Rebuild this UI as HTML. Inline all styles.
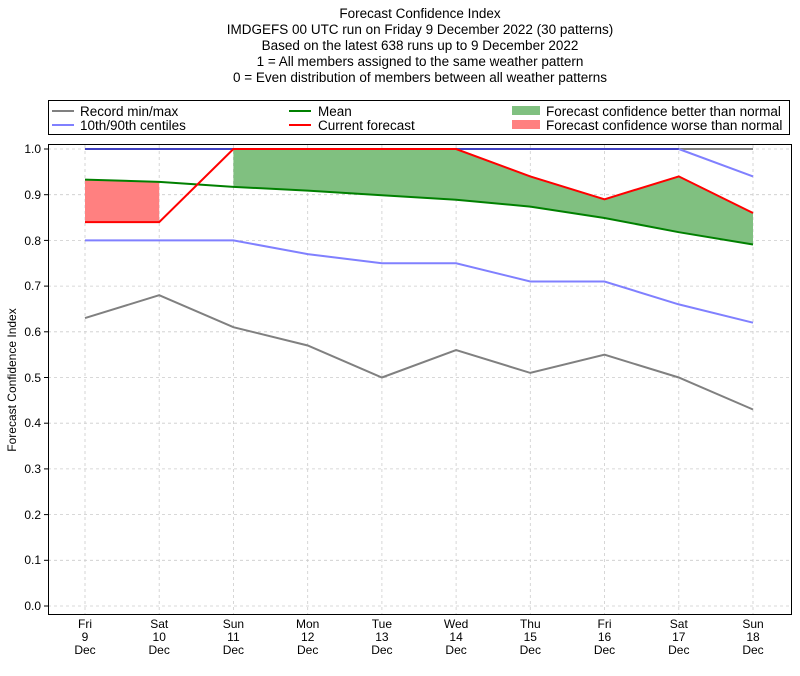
<!DOCTYPE html>
<html><head><meta charset="utf-8"><style>body{margin:0;background:#fff}svg{display:block;font-family:"Liberation Sans","DejaVu Sans",sans-serif}</style></head><body>
<svg width="800" height="676" viewBox="0 0 800 676" xmlns="http://www.w3.org/2000/svg">
<g font-size="13.5" text-anchor="middle" fill="#000">
<text x="420" y="18">Forecast Confidence Index</text>
<text x="420" y="34">IMDGEFS 00 UTC run on Friday 9 December 2022 (30 patterns)</text>
<text x="420" y="50">Based on the latest 638 runs up to 9 December 2022</text>
<text x="420" y="66">1 = All members assigned to the same weather pattern</text>
<text x="420" y="82">0 = Even distribution of members between all weather patterns</text>
</g>
<rect x="48.5" y="100.5" width="741" height="34" fill="#fff" stroke="#000"/>
<g font-size="13.5">
<line x1="52" y1="111" x2="74" y2="111" stroke="#808080" stroke-width="2"/><text x="80" y="116">Record min/max</text>
<line x1="52" y1="125" x2="74" y2="125" stroke="#8080ff" stroke-width="2"/><text x="80" y="130">10th/90th centiles</text>
<line x1="289" y1="111" x2="311" y2="111" stroke="#008000" stroke-width="2"/><text x="318" y="116">Mean</text>
<line x1="289" y1="125" x2="311" y2="125" stroke="#ff0000" stroke-width="2"/><text x="318" y="130">Current forecast</text>
<rect x="512" y="106" width="28" height="9" fill="#80c080"/><text x="546" y="116">Forecast confidence better than normal</text>
<rect x="512" y="120" width="28" height="9" fill="#ff8080"/><text x="546" y="130">Forecast confidence worse than normal</text>
</g>
<g stroke="#ccc" stroke-dasharray="3,3" stroke-width="0.8">
<line x1="48" x2="792" y1="149" y2="149"/><line x1="48" x2="792" y1="194.7" y2="194.7"/><line x1="48" x2="792" y1="240.4" y2="240.4"/><line x1="48" x2="792" y1="286.1" y2="286.1"/><line x1="48" x2="792" y1="331.8" y2="331.8"/><line x1="48" x2="792" y1="377.5" y2="377.5"/><line x1="48" x2="792" y1="423.2" y2="423.2"/><line x1="48" x2="792" y1="468.9" y2="468.9"/><line x1="48" x2="792" y1="514.6" y2="514.6"/><line x1="48" x2="792" y1="560.3" y2="560.3"/><line x1="48" x2="792" y1="606" y2="606"/>
<line y1="145" y2="614" x1="85" x2="85"/><line y1="145" y2="614" x1="159.2" x2="159.2"/><line y1="145" y2="614" x1="233.4" x2="233.4"/><line y1="145" y2="614" x1="307.7" x2="307.7"/><line y1="145" y2="614" x1="381.9" x2="381.9"/><line y1="145" y2="614" x1="456.1" x2="456.1"/><line y1="145" y2="614" x1="530.3" x2="530.3"/><line y1="145" y2="614" x1="604.5" x2="604.5"/><line y1="145" y2="614" x1="678.8" x2="678.8"/><line y1="145" y2="614" x1="753" x2="753"/>
</g>
<polygon points="85,179.6 159.2,181.9 159.2,222.1 85,222.1" fill="#ff8080"/>
<polygon points="233.4,149 307.7,149 381.9,149 456.1,149 530.3,176.4 604.5,199.3 678.8,176.4 753,213 753,244.5 678.8,232.2 604.5,218 530.3,206.6 456.1,199.7 381.9,195.2 307.7,190.6 233.4,186.9" fill="#80c080"/>
<g fill="none" stroke-width="2">
<polyline stroke="#808080" points="85,149 753,149"/>
<polyline stroke="#808080" points="85,318.1 159.2,295.2 233.4,327.2 307.7,345.5 381.9,377.5 456.1,350.1 530.3,372.9 604.5,354.7 678.8,377.5 753,409.5"/>
<polyline stroke="#8080ff" points="85,240.4 159.2,240.4 233.4,240.4 307.7,254.1 381.9,263.3 456.1,263.3 530.3,281.5 604.5,281.5 678.8,304.4 753,322.7"/>
<polyline stroke="#4040c0" points="85,149 678.8,149"/>
<polyline stroke="#8080ff" points="678.8,149 753,176.4"/>
<polyline stroke="#008000" points="85,179.6 159.2,181.9 233.4,186.9 307.7,190.6 381.9,195.2 456.1,199.7 530.3,206.6 604.5,218 678.8,232.2 753,244.5"/>
<polyline stroke="#ff0000" points="85,222.1 159.2,222.1 233.4,149 307.7,149 381.9,149 456.1,149 530.3,176.4 604.5,199.3 678.8,176.4 753,213"/>
</g>
<rect x="48.5" y="144.5" width="743" height="470" fill="none" stroke="#000"/>
<g font-size="12" text-anchor="end">
<text x="41" y="153">1.0</text><text x="41" y="199">0.9</text><text x="41" y="245">0.8</text><text x="41" y="290">0.7</text><text x="41" y="336">0.6</text><text x="41" y="382">0.5</text><text x="41" y="427">0.4</text><text x="41" y="473">0.3</text><text x="41" y="519">0.2</text><text x="41" y="564">0.1</text><text x="41" y="610">0.0</text>
</g>
<g stroke="#000"><line x1="44" x2="48" y1="149" y2="149"/><line x1="44" x2="48" y1="194.7" y2="194.7"/><line x1="44" x2="48" y1="240.4" y2="240.4"/><line x1="44" x2="48" y1="286.1" y2="286.1"/><line x1="44" x2="48" y1="331.8" y2="331.8"/><line x1="44" x2="48" y1="377.5" y2="377.5"/><line x1="44" x2="48" y1="423.2" y2="423.2"/><line x1="44" x2="48" y1="468.9" y2="468.9"/><line x1="44" x2="48" y1="514.6" y2="514.6"/><line x1="44" x2="48" y1="560.3" y2="560.3"/><line x1="44" x2="48" y1="606" y2="606"/></g>
<text transform="translate(16,380) rotate(-90)" font-size="12" text-anchor="middle">Forecast Confidence Index</text>
<g font-size="12" text-anchor="middle">
<text x="85" y="628">Fri</text><text x="85" y="641">9</text><text x="85" y="654">Dec</text>
<text x="159.2" y="628">Sat</text><text x="159.2" y="641">10</text><text x="159.2" y="654">Dec</text>
<text x="233.4" y="628">Sun</text><text x="233.4" y="641">11</text><text x="233.4" y="654">Dec</text>
<text x="307.7" y="628">Mon</text><text x="307.7" y="641">12</text><text x="307.7" y="654">Dec</text>
<text x="381.9" y="628">Tue</text><text x="381.9" y="641">13</text><text x="381.9" y="654">Dec</text>
<text x="456.1" y="628">Wed</text><text x="456.1" y="641">14</text><text x="456.1" y="654">Dec</text>
<text x="530.3" y="628">Thu</text><text x="530.3" y="641">15</text><text x="530.3" y="654">Dec</text>
<text x="604.5" y="628">Fri</text><text x="604.5" y="641">16</text><text x="604.5" y="654">Dec</text>
<text x="678.8" y="628">Sat</text><text x="678.8" y="641">17</text><text x="678.8" y="654">Dec</text>
<text x="753" y="628">Sun</text><text x="753" y="641">18</text><text x="753" y="654">Dec</text>
</g>
</svg>
</body></html>
